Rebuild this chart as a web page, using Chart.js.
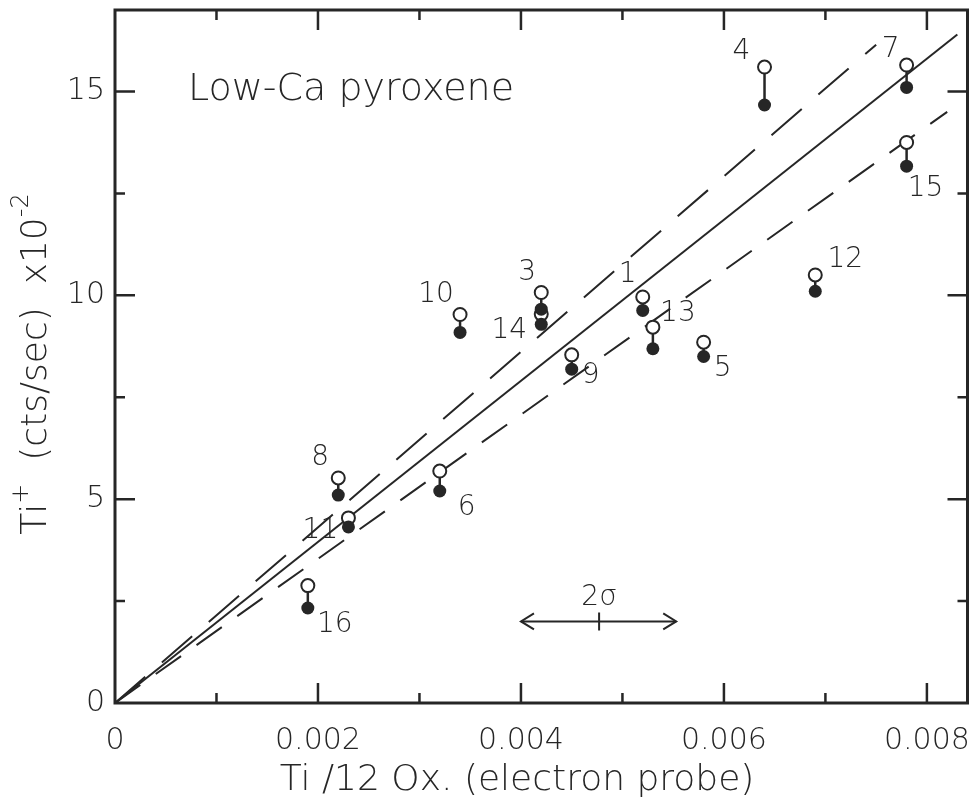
<!DOCTYPE html>
<html>
<head>
<meta charset="utf-8">
<script src="https://cdn.jsdelivr.net/npm/chart.js@4.4.0/dist/chart.umd.min.js"></script>
<style>
  html, body { margin: 0; padding: 0; background: #fff; }
</style>
</head>
<body>
<canvas id="chart" width="976" height="807"></canvas>
<script>
// samples: Ti by electron probe vs Ti+ ion signal (open = upper, filled = lower)
const sampleIds = ["1", "3", "4", "5", "6", "7", "8", "9", "10", "11", "12", "13", "14", "15", "16"];
const tiProbe   = [0.0052, 0.0042, 0.0064, 0.0058, 0.0032, 0.0078, 0.0022, 0.0045, 0.0034, 0.0023, 0.0069, 0.0053, 0.0042, 0.0078, 0.0019];
const ionOpen   = [9.96, 10.07, 15.6, 8.85, 5.69, 15.65, 5.52, 8.54, 9.53, 4.54, 10.5, 9.22, 9.54, 13.75, 2.88];
const ionFilled = [9.63, 9.66, 14.67, 8.5, 5.2, 15.1, 5.1, 8.19, 9.09, 4.32, 10.1, 8.69, 9.29, 13.17, 2.33];

// regression line and its band (end points)
const fitX   = [0, 0.0083];
const fitY   = [0, 16.4];
const upperX = [0, 0.0075];
const upperY = [0, 16.15];
const lowerX = [0, 0.0082];
const lowerY = [0, 14.5];

// 2 sigma bar
const sigmaX = [0.0040, 0.00553];
const sigmaY = 2.0;
const sigmaMid = 0.00477;

const xTicks = [0, 0.002, 0.004, 0.006, 0.008];
const xMinor = [0.001, 0.003, 0.005, 0.007];
const yTicks = [0, 5, 10, 15];
const yMinor = [2.5, 7.5, 12.5];

// label offsets from the open circle, px
const labelDx = [-15, -14, -23, 19, 27, -16, -18, 19, -24, -28, 30, 25, -32, 19, 27];
const labelDy = [-22, -20, -15, 26, 37, -15, -20, 21, -20, 13, -15, -13, 17, 46, 39];

const INK = "#262626";
const FONT = "'DejaVu Sans', sans-serif";

const toPts = (xs, ys) => xs.map((x, i) => ({x: x, y: ys[i]}));

const stems = [];
tiProbe.forEach((x, i) => {
  stems.push({x: x, y: ionOpen[i]});
  stems.push({x: x, y: ionFilled[i]});
  stems.push({x: x, y: null});
});

function drawRich(ctx, parts, x, y) {
  let w = 0;
  parts.forEach(p => {
    ctx.font = "200 " + p.size + "px " + FONT;
    w += ctx.measureText(p.t).width;
  });
  let cx = x - w / 2;
  parts.forEach(p => {
    ctx.font = "200 " + p.size + "px " + FONT;
    ctx.fillText(p.t, cx, y - (p.rise || 0));
    cx += ctx.measureText(p.t).width;
  });
}

const decorations = {
  id: "decorations",
  afterDatasetsDraw(chart) {
    const ctx = chart.ctx;
    const xs = chart.scales.x, ys = chart.scales.y;
    const a = chart.chartArea;
    ctx.save();
    ctx.fillStyle = INK;
    ctx.strokeStyle = INK;

    // sample numbers
    ctx.font = "200 28px " + FONT;
    ctx.textAlign = "center";
    ctx.textBaseline = "middle";
    sampleIds.forEach((id, i) => {
      const px = xs.getPixelForValue(tiProbe[i]);
      const py = ys.getPixelForValue(ionOpen[i]);
      ctx.fillText(id, px + labelDx[i], py + labelDy[i]);
    });

    // 2 sigma arrow heads + middle tick
    const sy = ys.getPixelForValue(sigmaY);
    const l = xs.getPixelForValue(sigmaX[0]);
    const r = xs.getPixelForValue(sigmaX[1]);
    const m = xs.getPixelForValue(sigmaMid);
    ctx.lineWidth = 2;
    ctx.beginPath();
    ctx.moveTo(l + 13, sy - 8); ctx.lineTo(l, sy); ctx.lineTo(l + 13, sy + 8);
    ctx.moveTo(r - 13, sy - 8); ctx.lineTo(r, sy); ctx.lineTo(r - 13, sy + 8);
    ctx.moveTo(m, sy - 9); ctx.lineTo(m, sy + 9);
    ctx.stroke();
    ctx.font = "200 28px " + FONT;
    ctx.textBaseline = "alphabetic";
    ctx.fillText("2\u03c3", m, sy - 16);

    // panel title
    ctx.textAlign = "left";
    ctx.font = "200 38px " + FONT;
    ctx.fillText("Low-Ca pyroxene", 188, 100);

    // frame
    ctx.lineWidth = 3;
    ctx.strokeRect(a.left, a.top, a.right - a.left, a.bottom - a.top);

    // inward ticks on all four sides
    ctx.lineWidth = 2.5;
    ctx.beginPath();
    const tx = (v, len) => {
      const p = xs.getPixelForValue(v);
      ctx.moveTo(p, a.bottom); ctx.lineTo(p, a.bottom - len);
      ctx.moveTo(p, a.top); ctx.lineTo(p, a.top + len);
    };
    const ty = (v, len) => {
      const p = ys.getPixelForValue(v);
      ctx.moveTo(a.left, p); ctx.lineTo(a.left + len, p);
      ctx.moveTo(a.right, p); ctx.lineTo(a.right - len, p);
    };
    xTicks.filter(v => v > 0).forEach(v => tx(v, 20));
    xMinor.forEach(v => tx(v, 10));
    yTicks.filter(v => v > 0).forEach(v => ty(v, 20));
    yMinor.forEach(v => ty(v, 10));
    ctx.stroke();

    // axis titles
    ctx.textAlign = "left";
    ctx.textBaseline = "alphabetic";
    drawRich(ctx, [{t: "Ti /12 Ox. (electron probe)", size: 36}], 517, 790);

    ctx.translate(46, 364);
    ctx.rotate(-Math.PI / 2);
    drawRich(ctx, [
      {t: "Ti", size: 36},
      {t: "+", size: 24, rise: 18},
      {t: "  (cts/sec)  x10", size: 36},
      {t: "-2", size: 24, rise: 18}
    ], 0, 0);
    ctx.restore();
  }
};

new Chart(document.getElementById("chart"), {
  type: "scatter",
  data: {
    datasets: [
      {
        label: "filled",
        data: toPts(tiProbe, ionFilled),
        pointRadius: 6.5,
        pointBackgroundColor: INK,
        pointBorderWidth: 0,
        showLine: false
      },
      {
        label: "open",
        data: toPts(tiProbe, ionOpen),
        pointRadius: 6.5,
        pointBackgroundColor: "#fff",
        pointBorderColor: INK,
        pointBorderWidth: 2,
        showLine: false
      },
      {
        label: "stems",
        data: stems,
        showLine: true,
        spanGaps: false,
        borderColor: INK,
        borderWidth: 2.5,
        pointRadius: 0
      },
      {
        label: "sigma",
        data: [{x: sigmaX[0], y: sigmaY}, {x: sigmaX[1], y: sigmaY}],
        showLine: true,
        borderColor: INK,
        borderWidth: 2,
        pointRadius: 0
      },
      {
        label: "fit",
        data: toPts(fitX, fitY),
        showLine: true,
        borderColor: INK,
        borderWidth: 2,
        pointRadius: 0
      },
      {
        label: "upper",
        data: toPts(upperX, upperY),
        showLine: true,
        borderColor: INK,
        borderWidth: 2,
        borderDash: [40, 22],
        pointRadius: 0
      },
      {
        label: "lower",
        data: toPts(lowerX, lowerY),
        showLine: true,
        borderColor: INK,
        borderWidth: 2,
        borderDash: [31, 19],
        pointRadius: 0
      }
    ]
  },
  options: {
    responsive: false,
    animation: false,
    layout: { padding: { top: 10, right: 6, left: 0, bottom: 0 } },
    plugins: {
      legend: { display: false },
      tooltip: { enabled: false }
    },
    scales: {
      x: {
        type: "linear",
        min: 0,
        max: 0.0084,
        grid: { display: false, drawTicks: false },
        border: { display: false },
        afterBuildTicks: s => { s.ticks = xTicks.map(v => ({value: v})); },
        afterFit: s => { s.height = 104; s.paddingLeft = 0; s.paddingRight = 0; },
        ticks: {
          padding: 20,
          color: INK,
          font: { family: FONT, size: 30, weight: 200 },
          callback: v => v === 0 ? "0" : v.toFixed(3)
        }
      },
      y: {
        type: "linear",
        min: 0,
        max: 17,
        grid: { display: false, drawTicks: false },
        border: { display: false },
        afterBuildTicks: s => { s.ticks = yTicks.map(v => ({value: v})); },
        afterFit: s => { s.width = 115; s.paddingTop = 0; s.paddingBottom = 0; },
        ticks: {
          padding: 10,
          color: INK,
          font: { family: FONT, size: 30, weight: 200 },
          callback: v => String(v)
        }
      }
    }
  },
  plugins: [decorations]
});
</script>
</body>
</html>
